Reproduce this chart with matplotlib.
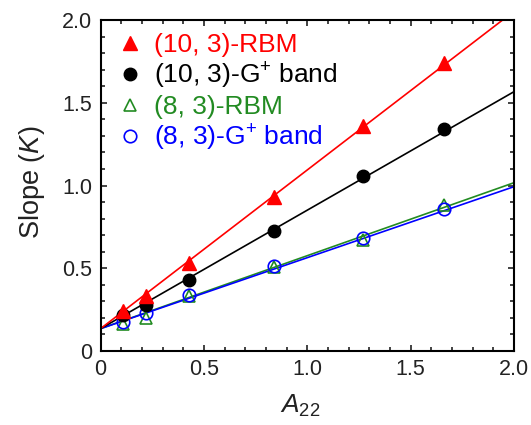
import numpy as np
import matplotlib
matplotlib.use("Agg")
import matplotlib.pyplot as plt

plt.rcParams["font.family"] = ["Liberation Sans", "DejaVu Sans"]
plt.rcParams["mathtext.fontset"] = "custom"
plt.rcParams["mathtext.rm"] = "Liberation Sans"
plt.rcParams["mathtext.it"] = "Liberation Sans:italic"

# A22 values shared by all four series
a22 = [0.11, 0.22, 0.43, 0.84, 1.27, 1.66]

rbm_10_3 = [0.24, 0.33, 0.53, 0.93, 1.36, 1.74]
g_10_3 = [0.22, 0.28, 0.43, 0.725, 1.06, 1.34]
rbm_8_3 = [0.165, 0.20, 0.33, 0.51, 0.67, 0.88]
g_8_3 = [0.173, 0.228, 0.34, 0.515, 0.68, 0.86]

# linear fits: intercept, slope
fit_intercept = 0.135
fit_slopes = {"rbm_10_3": 0.959, "g_10_3": 0.716, "rbm_8_3": 0.441, "g_8_3": 0.429}

labels = ["(10, 3)-RBM", "(10, 3)-G$^{+}$ band", "(8, 3)-RBM", "(8, 3)-G$^{+}$ band"]
colors = ["#ff0000", "#000000", "#228b22", "#0000ff"]

fig = plt.figure(figsize=(5.31, 4.25), dpi=100)
ax = fig.add_axes([0.1893, 0.1741, 0.7787, 0.7788])

xfit = np.linspace(0, 2.0, 50)

# fit lines, green below blue, black below red
ax.plot(xfit, fit_intercept + fit_slopes["rbm_8_3"] * xfit, color=colors[2], lw=1.2, zorder=2)
ax.plot(xfit, fit_intercept + fit_slopes["g_8_3"] * xfit, color=colors[3], lw=1.2, zorder=2)
ax.plot(xfit, fit_intercept + fit_slopes["g_10_3"] * xfit, color=colors[1], lw=1.2, zorder=2)
ax.plot(xfit, fit_intercept + fit_slopes["rbm_10_3"] * xfit, color=colors[0], lw=1.2, zorder=2)

h1, = ax.plot(a22, rbm_10_3, "^", ms=9.5, color=colors[0], ls="none", zorder=6, label=labels[0])
h2, = ax.plot(a22, g_10_3, "o", ms=9, color=colors[1], ls="none", zorder=5, label=labels[1])
h3, = ax.plot(a22, rbm_8_3, "^", ms=9, mfc="none", mec=colors[2], mew=1.2, ls="none", zorder=3, label=labels[2])
h4, = ax.plot(a22, g_8_3, "o", ms=9, mfc="none", mec=colors[3], mew=1.2, ls="none", zorder=4, label=labels[3])

ax.set_xlim(0, 2.0)
ax.set_ylim(0, 2.0)
ax.set_xticks([0, 0.5, 1.0, 1.5, 2.0])
ax.set_xticklabels(["0", "0.5", "1.0", "1.5", "2.0"])
ax.set_yticks([0, 0.5, 1.0, 1.5, 2.0])
ax.set_yticklabels(["0", "0.5", "1.0", "1.5", "2.0"])
ax.xaxis.set_minor_locator(matplotlib.ticker.MultipleLocator(0.1))
ax.yaxis.set_minor_locator(matplotlib.ticker.MultipleLocator(0.1))
ax.tick_params(which="both", direction="in", top=True, right=True, width=1.2, labelsize=15.5, colors="#222222", labelcolor="#222222")
ax.tick_params(which="major", length=4.5, pad=6)
ax.tick_params(which="minor", length=3.2)
for sp in ax.spines.values():
    sp.set_linewidth(1.5)

ax.set_xlabel(r"$A_{\mathrm{22}}$", fontsize=19, color="#222222", labelpad=9)
ax.xaxis.label.set_x(0.483)
ax.set_ylabel(r"Slope ($K$)", fontsize=19.5, color="#222222", labelpad=11)
ax.yaxis.label.set_y(0.51)

leg = ax.legend(handles=[h1, h2, h3, h4], loc="upper left", bbox_to_anchor=(0.008, 1.0),
                frameon=False, fontsize=19, handlelength=1.0, handletextpad=0.42,
                labelspacing=0.14, borderaxespad=0.1, labelcolor="markeredgecolor")

fig.savefig("out.png", dpi=100)
